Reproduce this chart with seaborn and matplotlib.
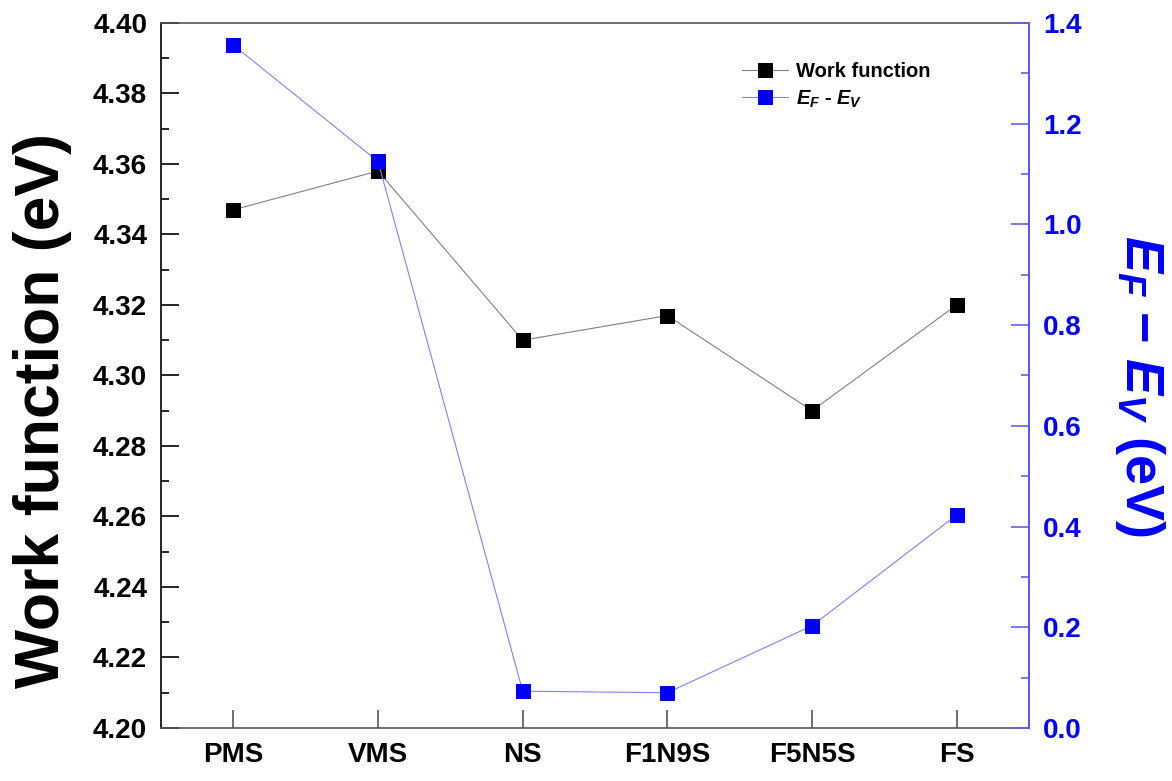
import seaborn as sns
import numpy as np
import pandas as pd
import matplotlib.pyplot as plt
from matplotlib.ticker import MultipleLocator, AutoMinorLocator

samples = ["PMS", "VMS", "NS", "F1N9S", "F5N5S", "FS"]
work_function = [4.347, 4.358, 4.310, 4.317, 4.290, 4.320]
ef_ev = [1.356, 1.125, 0.073, 0.070, 0.203, 0.423]

df = pd.DataFrame({"sample": samples, "wf": work_function, "efev": ef_ev})

sns.set_style("ticks", rc={"text.color": "black", "axes.labelcolor": "black",
                           "xtick.color": "black", "ytick.color": "black"})
plt.rcParams["font.family"] = ["Liberation Sans", "DejaVu Sans"]
plt.rcParams["font.weight"] = "bold"
plt.rcParams["mathtext.fontset"] = "custom"
plt.rcParams["mathtext.it"] = "Liberation Sans:italic:bold"
plt.rcParams["mathtext.rm"] = "Liberation Sans:bold"
plt.rcParams["mathtext.bf"] = "Liberation Sans:bold"

blue = "#0000ff"
fig = plt.figure(figsize=(11.72, 7.81), dpi=100)
ax = fig.add_axes([0.1374, 0.0679, 0.878 - 0.1374, 0.9706 - 0.0679])
ax2 = ax.twinx()

sns.lineplot(data=df, x="sample", y="wf", sort=False, ax=ax, color="#808080", lw=0.8,
             marker="s", markersize=9.5, markerfacecolor="black", markeredgecolor="black",
             label="Work function", legend=False)
sns.lineplot(data=df, x="sample", y="efev", sort=False, ax=ax2, color="#8080ff", lw=0.8,
             marker="s", markersize=9.5, markerfacecolor=blue, markeredgecolor=blue,
             label=r"$E_F$ - $E_V$", legend=False)

ax.set_xlim(-0.5, 5.5)
ax.set_ylim(4.20, 4.40)
ax2.set_ylim(0, 1.4)
ax.yaxis.set_major_locator(MultipleLocator(0.02))
ax.yaxis.set_minor_locator(AutoMinorLocator(2))
ax2.yaxis.set_major_locator(MultipleLocator(0.2))
ax2.yaxis.set_minor_locator(AutoMinorLocator(2))
ax.yaxis.set_major_formatter(plt.FormatStrFormatter("%.2f"))
ax2.yaxis.set_major_formatter(plt.FormatStrFormatter("%.1f"))

ax.tick_params(axis="both", which="both", direction="in")
ax.tick_params(axis="y", which="major", length=13, width=1.2, labelsize=20, pad=10)
ax.tick_params(axis="y", which="minor", length=6, width=1.2)
ax.tick_params(axis="x", which="major", length=13, width=1.2, labelsize=20, pad=10,
               color="#555555", labelcolor="black")
ax2.tick_params(axis="y", which="both", direction="in", colors=blue)
ax2.tick_params(axis="y", which="major", length=13, width=1.2, labelsize=20, pad=10,
                color="#6060ff")
ax2.tick_params(axis="y", which="minor", length=6, width=1.2, color="#6060ff")

for lab in ax.get_xticklabels() + ax.get_yticklabels() + ax2.get_yticklabels():
    lab.set_fontweight("bold")

ax.set_xlabel("")
ax.set_ylabel("Work function (eV)", fontsize=45, fontweight="bold", va="center")
ax.yaxis.set_label_coords(-0.137, 0.45)
ax2.set_ylabel(r"$E_F$ $\mathrm{-}$ $E_V$ (eV)", fontsize=39, fontweight="bold",
               color=blue, rotation=270, va="center")
ax2.yaxis.set_label_coords(1.128, 0.485)

for s in ["left", "top", "bottom", "right"]:
    ax.spines[s].set_linewidth(1.2)
    ax2.spines[s].set_linewidth(1.2)
ax.spines["left"].set_color("black")
ax.spines["bottom"].set_color("#555555")
ax.spines["top"].set_color("#555555")
ax2.spines["right"].set_color("#6060ff")
ax2.spines["left"].set_visible(False)
ax2.spines["top"].set_visible(False)
ax2.spines["bottom"].set_visible(False)

handles = ax.get_lines()[:1] + ax2.get_lines()[:1]
leg = ax.legend(handles, [h.get_label() for h in handles], loc="upper left",
                bbox_to_anchor=(0.648, 0.97), frameon=False,
                handlelength=2.3, handletextpad=0.4, labelspacing=0.35,
                prop={"weight": "bold", "size": 14.5})

plt.savefig("out.png", dpi=100)
